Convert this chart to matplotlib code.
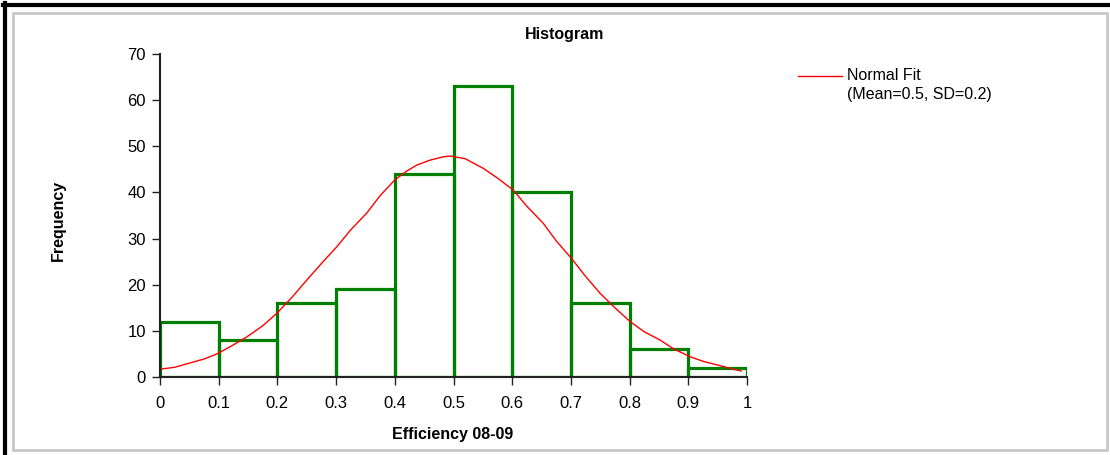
import matplotlib
matplotlib.use("Agg")
import matplotlib.pyplot as plt
from matplotlib.patches import Rectangle
from matplotlib.lines import Line2D

plt.rcParams['font.family'] = ['Liberation Sans', 'DejaVu Sans']

# Histogram data
bin_edges = [0.0, 0.1, 0.2, 0.3, 0.4, 0.5, 0.6, 0.7, 0.8, 0.9]
bin_width = 0.1
counts = [12, 8, 16, 19, 44, 63, 40, 16, 6, 2]

# Normal fit curve
fit_x = [0.0, 0.025, 0.05, 0.075, 0.097, 0.12, 0.148, 0.175, 0.199, 0.225, 0.25, 0.275,
         0.301, 0.325, 0.352, 0.375, 0.40, 0.42, 0.437, 0.46, 0.482, 0.494, 0.52,
         0.551, 0.575, 0.602, 0.625, 0.653, 0.675, 0.701, 0.725, 0.75, 0.775, 0.801,
         0.825, 0.852, 0.875, 0.903, 0.925, 0.95, 0.976, 0.99]
fit_y = [1.7, 2.1, 3.0, 3.9, 5.0, 6.6, 8.7, 11.1, 13.8, 17.3, 21.0, 24.6,
         28.2, 31.9, 35.5, 39.3, 42.7, 44.6, 45.9, 47.0, 47.7, 47.9, 47.3,
         45.2, 43.1, 40.5, 37.0, 33.3, 29.5, 25.7, 21.8, 18.1, 15.0, 12.0,
         9.8, 8.0, 6.1, 4.4, 3.4, 2.6, 1.7, 1.3]

x_ticks = [0, 0.1, 0.2, 0.3, 0.4, 0.5, 0.6, 0.7, 0.8, 0.9, 1]
x_tick_labels = ["0", "0.1", "0.2", "0.3", "0.4", "0.5", "0.6", "0.7", "0.8", "0.9", "1"]
y_ticks = [0, 10, 20, 30, 40, 50, 60, 70]

W, H = 1110, 455
fig = plt.figure(figsize=(W / 100, H / 100), dpi=100)
fig.patch.set_facecolor('white')

# outer frame
fig.add_artist(Rectangle((13 / W, 1 - 450 / H), (1107 - 13) / W, (450 - 13) / H,
                         transform=fig.transFigure, fill=False, edgecolor='#c8c8c8', linewidth=2))
fig.add_artist(Line2D([3 / W, 1], [1 - 4.5 / H, 1 - 4.5 / H], transform=fig.transFigure,
                      color='black', linewidth=3))
fig.add_artist(Line2D([4.5 / W, 4.5 / W], [0, 1 - 3 / H], transform=fig.transFigure,
                      color='black', linewidth=3))

ax = fig.add_axes([160 / W, 1 - 377 / H, (747 - 160) / W, (377 - 54) / H])
ax.bar(bin_edges, counts, width=bin_width, align='edge', fill=False,
       edgecolor='#008000', linewidth=2.3, zorder=2)
ax.plot(fit_x, fit_y, color='#ff0000', linewidth=1.0, zorder=3)

ax.set_xlim(0, 1)
ax.set_ylim(0, 70)
ax.set_xticks(x_ticks)
ax.set_xticklabels(x_tick_labels)
ax.set_yticks(y_ticks)
for s in ['top', 'right']:
    ax.spines[s].set_visible(False)
for s in ['left', 'bottom']:
    ax.spines[s].set_linewidth(1.5)
    ax.spines[s].set_color('#222222')
    ax.spines[s].set_zorder(4)
ax.tick_params(direction='out', length=6, width=1.0, color='#222222', labelsize=12, pad=8)
ax.tick_params(axis='y', pad=4)

fig.text(565 / W, 1 - 35 / H, "Histogram", ha='center', va='center', fontsize=11.5, fontweight='bold')
fig.text(453 / W, 1 - 434 / H, "Efficiency 08-09", ha='center', va='center', fontsize=11.5, fontweight='bold')
fig.text(58 / W, 1 - 220 / H, "Frequency", ha='center', va='center', rotation=90, fontsize=11.5, fontweight='bold')

# legend
fig.add_artist(Line2D([798 / W, 842 / W], [1 - 76 / H, 1 - 76 / H], transform=fig.transFigure,
                      color='#ff0000', linewidth=1.0))
fig.text(847 / W, 1 - 76 / H, "Normal Fit", ha='left', va='center', fontsize=11.5)
fig.text(847 / W, 1 - 95 / H, "(Mean=0.5, SD=0.2)", ha='left', va='center', fontsize=11.5)

fig.savefig("out.png", dpi=100)
